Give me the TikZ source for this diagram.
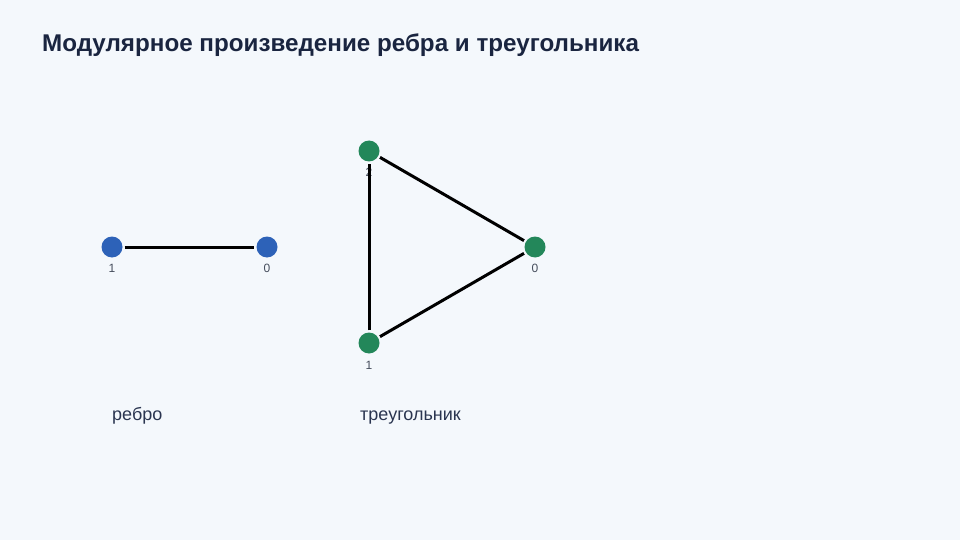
\documentclass[tikz,border=0pt]{standalone}
\usepackage{fontspec}
\setmainfont{Liberation Sans}
\definecolor{bg}{HTML}{F4F8FC}
\definecolor{titlec}{HTML}{1A2540}
\definecolor{textc}{HTML}{2A3550}
\definecolor{numc}{HTML}{454D5C}
\definecolor{bluen}{HTML}{2D62B8}
\definecolor{greenn}{HTML}{23875A}
\begin{document}
\begin{tikzpicture}[x=1pt,y=-1pt,
  vtx/.style={circle,inner sep=0pt,minimum size=21pt},
  bvtx/.style={vtx,fill=bluen},
  gvtx/.style={vtx,fill=greenn},
  numlbl/.style={font=\fontsize{12}{13}\selectfont,text=numc,inner sep=0pt},
  captxt/.style={font=\fontsize{18}{20}\selectfont,text=textc,inner sep=0pt,anchor=base west},
  gedge/.style={line width=3pt,black,shorten >=2pt,shorten <=2pt}]
\fill[bg] (0,0) rectangle (960,540);
\useasboundingbox (0,0) rectangle (960,540);
\node[anchor=base west,inner sep=0pt,font=\fontsize{24.2}{28}\selectfont\bfseries,text=titlec] (title) at (42,51.5) {Модулярное произведение ребра и треугольника};
% edge graph
\node[bvtx] (e1) at (112,247) {};
\node[bvtx] (e0) at (267,247) {};
\node[numlbl] (le1) at (112,268) {1};
\node[numlbl] (le0) at (267,268) {0};
% triangle
\node[gvtx] (t2) at (369,151) {};
\node[gvtx] (t0) at (535,247) {};
\node[gvtx] (t1) at (369,343) {};
\node[numlbl] (lt2) at (369,172) {2};
\node[numlbl] (lt0) at (535,268) {0};
\node[numlbl] (lt1) at (369,365) {1};
\draw[gedge] (e1) -- (e0);
\draw[gedge] (t2) -- (t0);
\draw[gedge] (t0) -- (t1);
\draw[gedge] (t1) -- (t2);
\node[captxt] (c1) at (112,420.5) {ребро};
\node[captxt] (c2) at (360,420.5) {треугольник};
\end{tikzpicture}
\end{document}
